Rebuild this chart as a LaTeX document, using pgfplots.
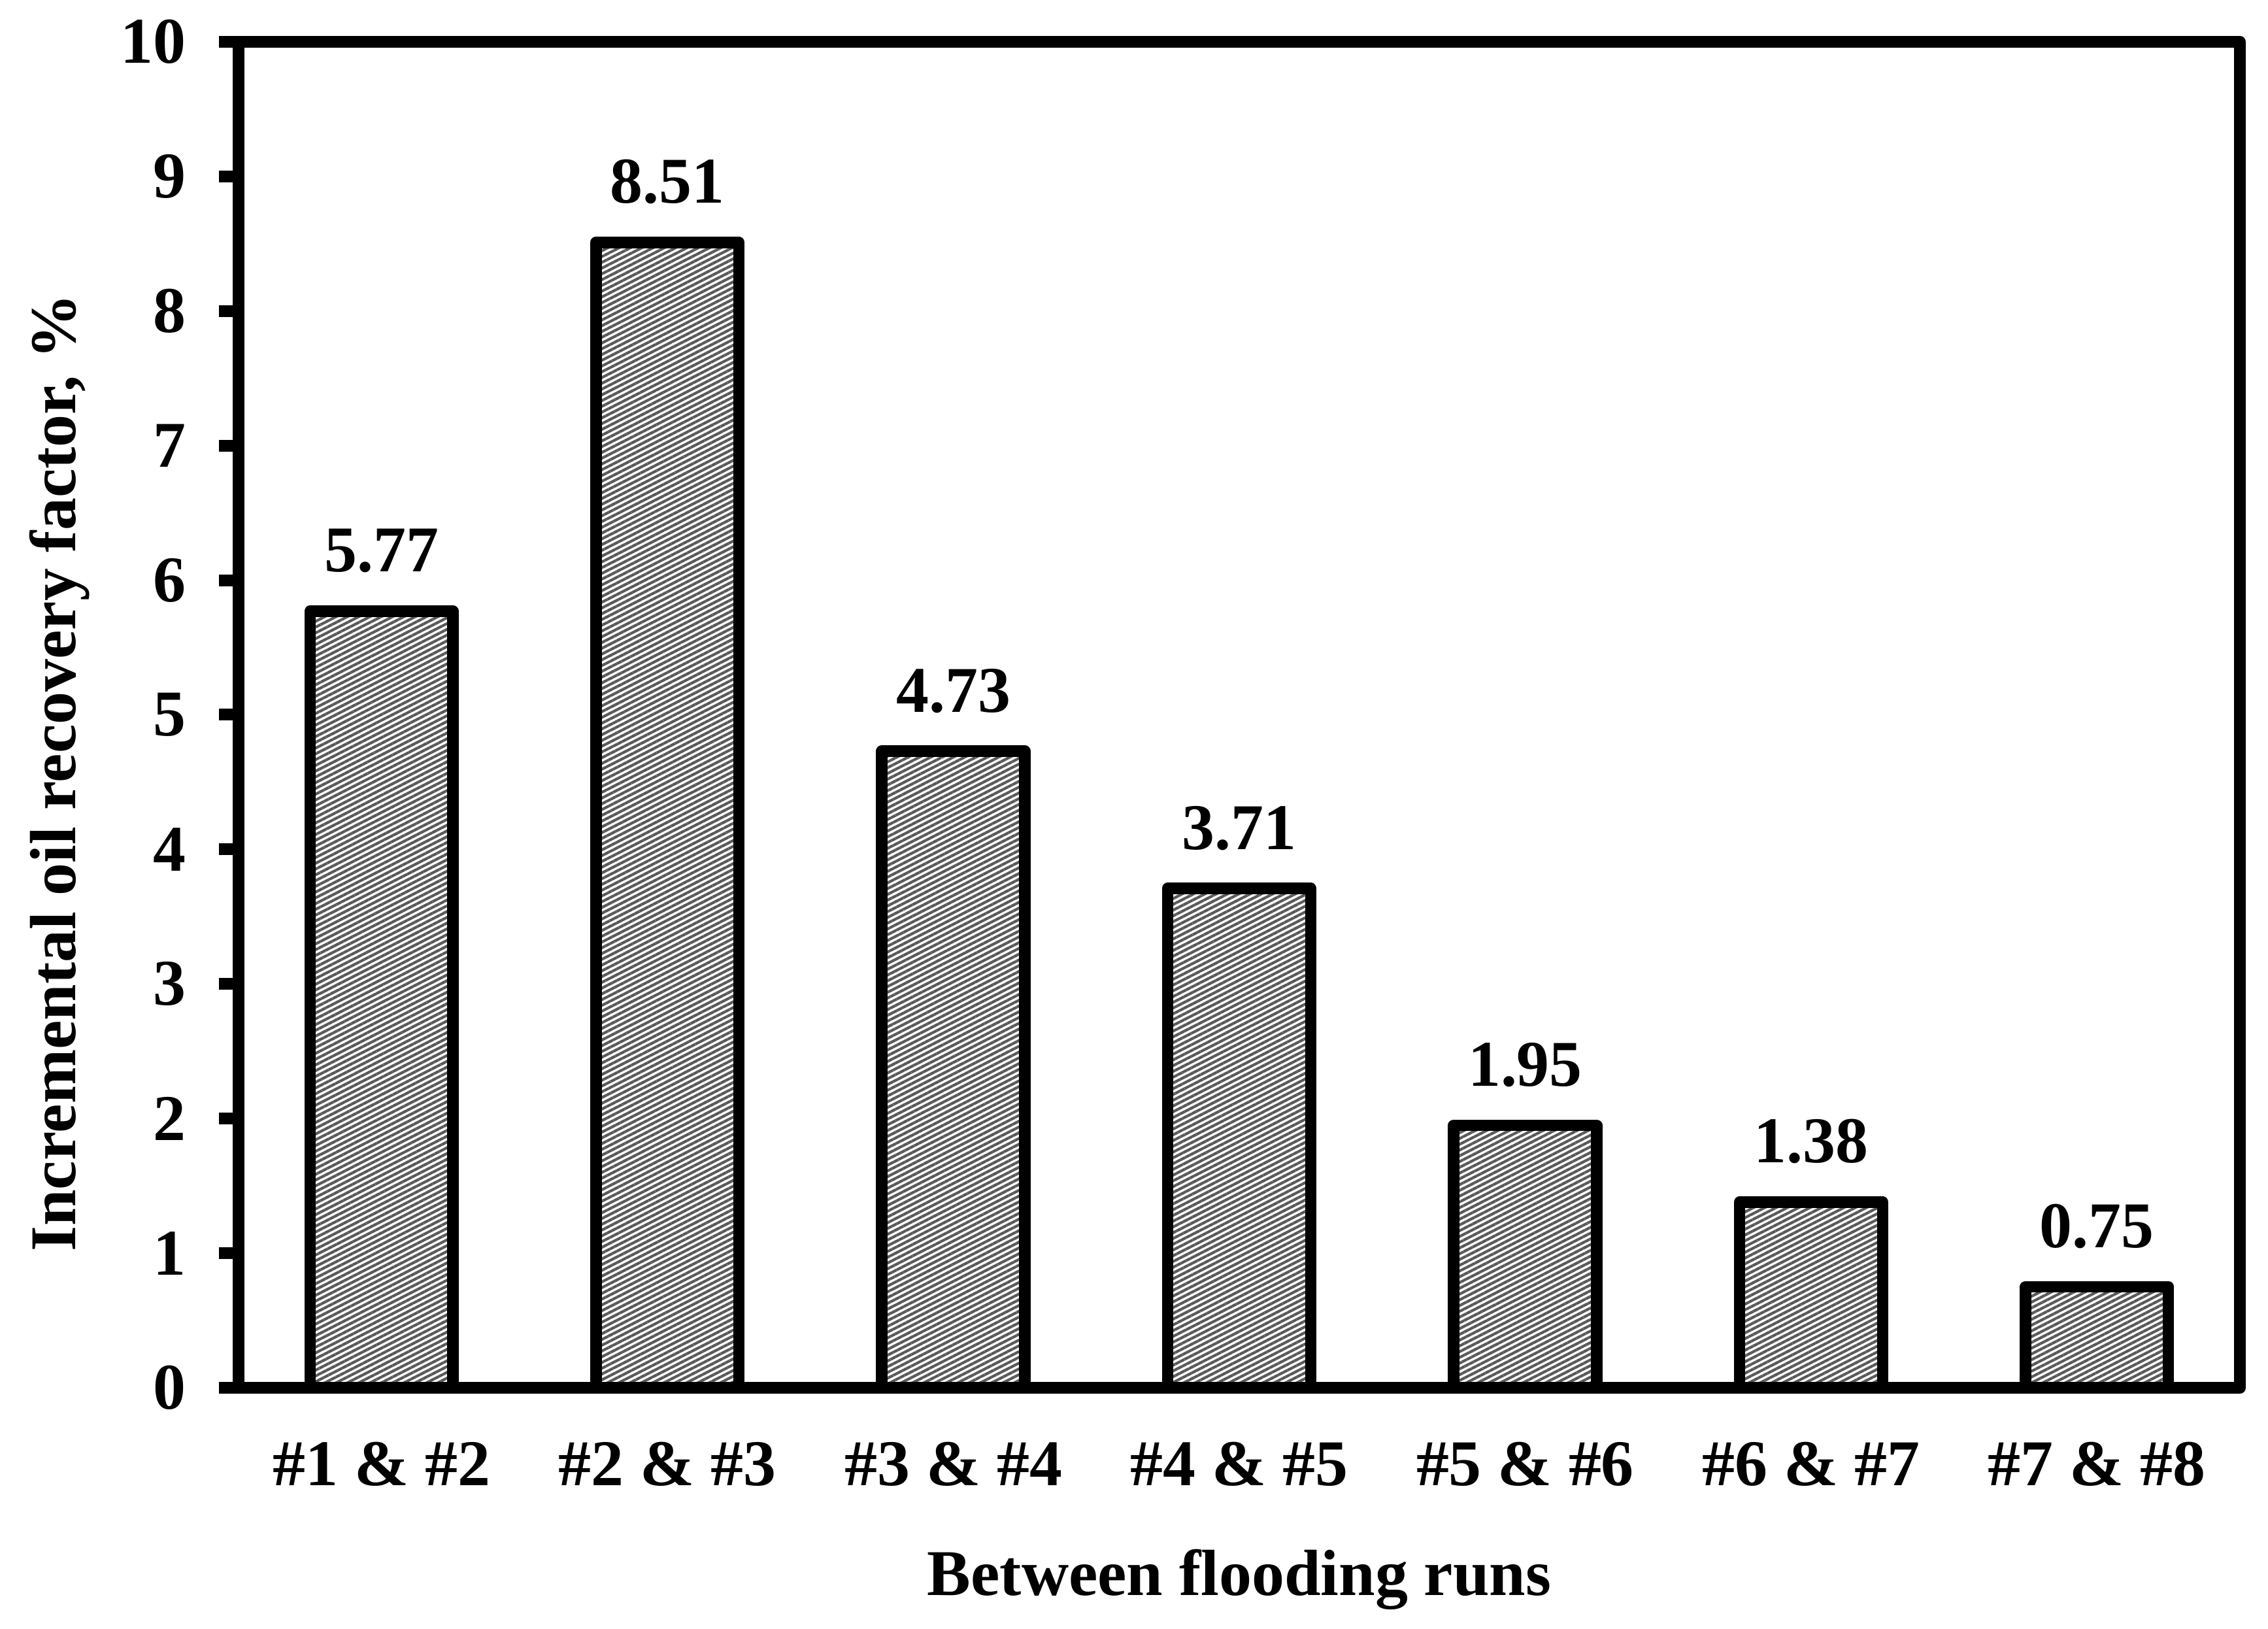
\documentclass[border=0pt]{standalone}
\usepackage{fontspec}
\setmainfont{Liberation Serif}
\usepackage{pgfplots}
\pgfplotsset{compat=1.18}
\usetikzlibrary{patterns.meta}
\definecolor{hatch}{HTML}{595959}
\pgfplotstableread{
x y
0 5.77
1 8.51
2 4.73
3 3.71
4 1.95
5 1.38
6 0.75
}\datatable
\begin{document}
\begin{tikzpicture}[font=\fontsize{13.1}{15.7}\selectfont\bfseries]
\useasboundingbox (-1.683,-1.701) rectangle (14.317,9.789);
\begin{axis}[
  scale only axis, width=14.119cm, height=9.494cm,
  xmin=-0.5, xmax=6.5, ymin=0, ymax=10,
  ytick={0,1,...,10},
  xtick=data,
  xticklabels={{\#1 \& \#2},{\#2 \& \#3},{\#3 \& \#4},{\#4 \& \#5},{\#5 \& \#6},{\#6 \& \#7},{\#7 \& \#8}},
  ytick pos=left,
  tick align=outside,
  major tick length=0.139cm,
  xtick style={draw=none},
  ytick style={line width=2.36pt, black},
  axis line style={line width=2.36pt, black, line join=round},
  ticklabel style={font=\fontsize{13.1}{15.7}\selectfont\bfseries},
  /pgf/number format/assume math mode=true,
  yticklabel style={xshift=-0.11cm},
  xticklabel style={anchor=base, yshift=-0.55cm},
  xlabel={Between flooding runs},
  ylabel={Incremental oil recovery factor, \%},
  xlabel style={at={(axis description cs:0.5,-0.154)}, anchor=base},
  ylabel style={at={(axis description cs:-0.0816,0.457)}, anchor=base},
  label style={font=\fontsize{13.1}{15.7}\selectfont\bfseries},
  ybar, bar width=0.5,
  nodes near coords={\pgfmathprintnumber[fixed,fixed zerofill,precision=2,assume math mode=true]{\pgfplotspointmeta}},
  every node near coord/.append style={font=\fontsize{13.1}{15.7}\selectfont\bfseries, anchor=base, yshift=0.277cm},
]
\addplot[draw=black, line width=2.3pt, line join=round,
  pattern={Lines[angle=27, distance=1.03pt, line width=0.55pt]}, pattern color=hatch]
  table[x=x, y=y] {\datatable};
\end{axis}
\end{tikzpicture}
\end{document}
